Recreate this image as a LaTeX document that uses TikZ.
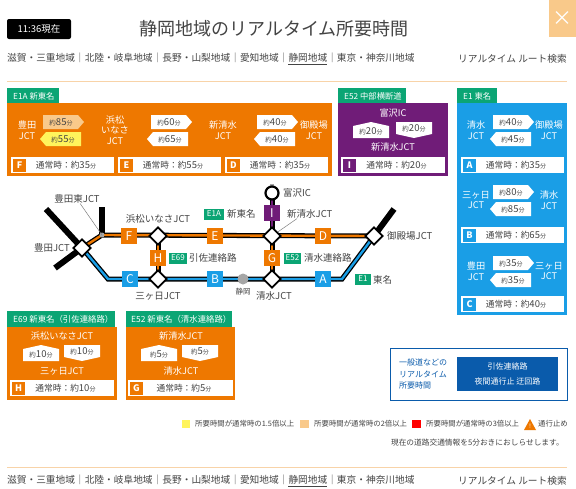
\documentclass[tikz,border=0pt]{standalone}
\usepackage{fontspec}
\setmainfont{Noto Sans CJK JP}
\usetikzlibrary{shapes.geometric,calc}
\definecolor{org}{HTML}{EE7800}
\definecolor{pur}{HTML}{701C78}
\definecolor{blu}{HTML}{1A9EE6}
\definecolor{grn}{HTML}{0BA574}
\definecolor{dbl}{HTML}{0A5BAB}
\definecolor{txt}{HTML}{444444}
\definecolor{lor}{HTML}{F9C98A}
\definecolor{lyl}{HTML}{FFF45C}
\definecolor{rul}{HTML}{F8D3A8}
\newcommand\fsz[1]{\fontsize{#1}{10.8}\selectfont}
\newcommand\tm[1]{{\fsz{6.5}約}{\fsz{9.5}#1}{\fsz{6}分}}
\newcommand\nm[1]{{\fsz{8.7}通常時：約}{\fsz{9.5}#1}{\fsz{6}分}}
\tikzset{
 panel/.style={fill=#1,draw=none},
 tabt/.style={text=white,font=\fsz{8.3},anchor=west,inner sep=0pt},
 tabw/.style={text=white,font=\fsz{8.4},anchor=west,inner sep=0pt},
 jct/.style={text=white,font=\fsz{9.2},align=center,inner sep=0pt},
 tagt/.style={text=txt,inner sep=0pt},
 rowt/.style={text=txt,inner sep=0pt},
 letb/.style={fill=#1,text=white,font=\fsz{9}\bfseries,minimum size=13pt,inner sep=0pt},
 mapb/.style={fill=#1,text=white,font=\fsz{12},minimum size=16pt,inner sep=0pt},
 jn/.style={diamond,draw=black,fill=white,line width=1.8pt,minimum width=18pt,minimum height=18pt,inner sep=0pt},
 lab/.style={text=txt,font=\fsz{9.5},inner sep=0pt},
 chip/.style={fill=grn,text=white,font=\fsz{8},inner sep=0pt,minimum height=11pt},
 road/.style={line width=5pt,black,line join=miter},
 branch/.style={line width=6pt,black,line join=miter},
 core/.style={line width=2.4pt,#1,line join=miter},
 small/.style={text=txt,font=\fsz{7.4},inner sep=0pt,anchor=west},
 nav/.style={text=txt,font=\fsz{9.7},inner sep=0pt}
}
\newcommand\tagR[5][white]{\fill[#1] (#2,#3) -- (#2+35,#3) -- (#2+41,#3+7) -- (#2+35,#3+14) -- (#2,#3+14) -- cycle; \node[tagt] (#4) at (#2+18,#3+7) {\tm{#5}};}
\newcommand\tagL[5][white]{\fill[#1] (#2+6,#3) -- (#2+41,#3) -- (#2+41,#3+14) -- (#2+6,#3+14) -- (#2,#3+7) -- cycle; \node[tagt] (#4) at (#2+23,#3+7) {\tm{#5}};}
\newcommand\tagU[4]{\fill[white] (#1,#2+4) -- (#1+18,#2) -- (#1+36,#2+4) -- (#1+36,#2+16) -- (#1,#2+16) -- cycle; \node[tagt] (#3) at (#1+18,#2+9.5) {\tm{#4}};}
\newcommand\tagD[4]{\fill[white] (#1,#2) -- (#1+36,#2) -- (#1+36,#2+12) -- (#1+18,#2+16) -- (#1,#2+12) -- cycle; \node[tagt] (#3) at (#1+18,#2+6.5) {\tm{#4}};}
\newcommand\rowb[7]{\draw[fill=white,draw=none] (#1,#2) rectangle (#3,#4);
 \node[letb=#6] (L#5) at (#1+8.5,{(#2+#4)/2}) {#5};
 \node[rowt] (T#5) at ({(#1+#3)/2+3.5},{(#2+#4)/2}) {\nm{#7}};}
\begin{document}
\begin{tikzpicture}[x=1pt,y=-1pt]
\path[use as bounding box,fill=white] (0,0) rectangle (576,488);
% header
\node[fill=black,text=white,rounded corners=2pt,minimum width=64pt,minimum height=20pt,font=\fsz{9.5},inner sep=0pt] (now) at (39,29) {11:36現在};
\node[text=txt,font=\fsz{18},inner sep=0pt] (title) at (274,29) {静岡地域のリアルタイム所要時間};
\node[fill=lor,minimum width=27pt,minimum height=37pt,inner sep=0pt,text=white,font=\fsz{20}] (close) at (562.5,18.5) {×};
\newcommand\navline{滋賀・三重地域｜北陸・岐阜地域｜長野・山梨地域｜愛知地域｜\underline{静岡地域}｜東京・神奈川地域}
\node[nav,anchor=west] (nav1) at (7,59) {\navline};
\node[nav,anchor=east] (rt1) at (567,59) {リアルタイム ルート検索};
\draw[rul,line width=1pt] (7,81) -- (567,81);
% E1A panel
\fill[grn] (7,88) rectangle (59,103);
\node[tabt] (tab1) at (13,96) {E1A 新東名};
\fill[org] (7,103) rectangle (332,176);
\node[jct] (p1a) at (27,130) {豊田\\JCT};
\tagR[lor]{43}{115}{t1}{85}
\tagL[lyl]{40}{132}{t2}{55}
\node[jct] (p1b) at (115,130) {浜松\\いなさ\\JCT};
\tagR{151}{115}{t3}{60}
\tagL{147}{132}{t4}{65}
\node[jct] (p1c) at (223,130) {新清水\\JCT};
\tagR{257}{115}{t5}{40}
\tagL{254}{132}{t6}{40}
\node[jct] (p1d) at (314,130) {御殿場\\JCT};
\rowb{11}{157}{114}{173}{F}{org}{35}
\rowb{118}{157}{221}{173}{E}{org}{55}
\rowb{225}{157}{328}{173}{D}{org}{35}
% E52 panel
\fill[grn] (338,88) rectangle (406,103);
\node[tabt] (tab2) at (344,96) {E52 中部横断道};
\fill[pur] (338,103) rectangle (448,176);
\node[jct] (p2a) at (393,113) {富沢IC};
\tagU{353}{122}{t7}{20}
\tagD{396}{122}{t8}{20}
\node[jct] (p2b) at (393,147) {新清水JCT};
\rowb{341}{157}{445}{173}{I}{pur}{20}
% E1 panel
\fill[grn] (457,88) rectangle (497,103);
\node[tabt] (tab3) at (463,96) {E1 東名};
\fill[blu] (457,103) rectangle (567,315);
\node[jct] (p3a) at (476,130) {清水\\JCT};
\tagR{493}{115}{t9}{40}
\tagL{490}{132}{t10}{45}
\node[jct] (p3b) at (549,130) {御殿場\\JCT};
\rowb{461}{157}{564}{173}{A}{blu}{35}
\node[jct] (p3c) at (476,200) {三ヶ日\\JCT};
\tagR{493}{185}{t11}{80}
\tagL{490}{202}{t12}{85}
\node[jct] (p3d) at (549,200) {清水\\JCT};
\rowb{461}{227}{564}{243}{B}{blu}{65}
\node[jct] (p3e) at (476,271) {豊田\\JCT};
\tagR{493}{256}{t13}{35}
\tagL{490}{273}{t14}{35}
\node[jct] (p3f) at (549,271) {三ヶ日\\JCT};
\rowb{461}{296}{564}{312}{C}{blu}{40}
% E69 panel
\fill[grn] (7,311) rectangle (115,327);
\node[tabw] (tab4) at (13,319) {E69 新東名（引佐連絡路）};
\fill[org] (7,327) rectangle (117,400);
\node[jct] (p4a) at (62,336) {浜松いなさJCT};
\tagU{23}{345}{t15}{10}
\tagD{64}{345}{t16}{10}
\node[jct] (p4b) at (62,371) {三ヶ日JCT};
\rowb{10}{380}{114}{396}{H}{org}{10}
% E52 lower panel
\fill[grn] (126,311) rectangle (232,327);
\node[tabw] (tab5) at (131,319) {E52 新東名（清水連絡路）};
\fill[org] (126,327) rectangle (235,400);
\node[jct] (p5a) at (181,336) {新清水JCT};
\tagU{141}{345}{t17}{5}
\tagD{182}{345}{t18}{5}
\node[jct] (p5b) at (181,371) {清水JCT};
\rowb{128}{380}{233}{396}{G}{org}{5}
% blue box
\draw[dbl,line width=1pt,fill=white] (390,348) rectangle (567,400);
\node[text=dbl,font=\fontsize{8}{11.5}\selectfont,align=left,inner sep=0pt,anchor=west] (gen) at (399,374) {一般道などの\\リアルタイム\\所要時間};
\node[fill=dbl,text=white,font=\fontsize{8}{15}\selectfont,align=center,minimum width=101pt,minimum height=34pt,inner sep=0pt] (gen2) at (507.5,374) {引佐連絡路\\夜間通行止 迂回路};
% road network
\coordinate (toyota) at (82,248);
\coordinate (tw1) at (46,209);
\coordinate (tw2) at (55,268);
\coordinate (hg1) at (102,207);
\coordinate (hg) at (102,235);
\coordinate (cn1) at (108,279);
\coordinate (cn2) at (342,279);
\coordinate (gt) at (394,209);
\coordinate (hm) at (158,236);
\coordinate (mk) at (158,279);
\coordinate (ss) at (272,236);
\coordinate (sm) at (272,279);
\coordinate (gb) at (374,236);
\coordinate (fj) at (272,193);
\draw[branch] (tw1) -- (toyota) -- (tw2);
\draw[branch] (hg1) -- (hg);
\draw[branch] (gb) -- (gt);
\draw[road] (toyota) -- (hg) -- (gb);
\draw[road] (toyota) -- (cn1) -- (cn2) -- (gb);
\draw[road] (hm) -- (mk);
\draw[road] (fj) -- (sm);
\draw[core=org] (toyota) -- (hg) -- (gb);
\draw[core=blu] (toyota) -- (cn1) -- (cn2) -- (gb);
\draw[core=org] (hm) -- (mk);
\draw[core=org] (ss) -- (sm);
\draw[core=pur] (fj) -- (ss);
\fill[gray!70] (hg) circle (2.5pt);
\node[jn] (jtoyota) at (toyota) {};
\node[jn] (jhm) at (hm) {};
\node[jn] (jmk) at (mk) {};
\node[jn] (jss) at (ss) {};
\node[jn] (jsm) at (sm) {};
\node[jn] (jgb) at (gb) {};
\fill[gray!70] (270,184) rectangle (274,187);
\node[circle,draw=black,fill=white,line width=2.2pt,minimum size=13pt,inner sep=0pt] (fuji) at (fj) {};
\node[fill=gray!70,circle,minimum size=11pt,inner sep=0pt] (sz) at (243,279) {};
\node[mapb=org] (mF) at (129,236) {F};
\node[mapb=org] (mE) at (215,236) {E};
\node[mapb=org] (mD) at (323,236) {D};
\node[mapb=org] (mH) at (158,258) {H};
\node[mapb=org] (mG) at (272,258) {G};
\node[mapb=pur] (mI) at (272,213) {I};
\node[mapb=blu] (mC) at (130,279) {C};
\node[mapb=blu] (mB) at (215,279) {B};
\node[mapb=blu] (mA) at (323,279) {A};
% labels
\node[lab] (l1) at (77,199) {豊田東JCT};
\draw[gray,line width=.5pt] (l1) -- (hg);
\node[lab,anchor=east] (l2) at (70,248) {豊田JCT};
\node[lab] (l3) at (158,219) {浜松いなさJCT};
\node[chip,minimum width=20pt] (c1) at (214,214) {E1A};
\node[lab,anchor=west] (l4) at (227,214) {新東名};
\node[lab,anchor=west] (l5) at (287,214) {新清水JCT};
\coordinate (l5p) at ($(l5.south west)+(10,0)$);
\draw[gray,line width=.5pt] (l5p) -- (jss);
\node[lab,anchor=west] (l6) at (283,193) {富沢IC};
\node[lab,anchor=west] (l7) at (387,236) {御殿場JCT};
\node[chip,minimum width=18pt] (c2) at (178,258) {E69};
\node[lab,anchor=west] (l8) at (189,258) {引佐連絡路};
\node[chip,minimum width=17pt] (c3) at (292.5,258) {E52};
\node[lab,anchor=west] (l9) at (304,258) {清水連絡路};
\node[chip,minimum width=16pt] (c4) at (363,279) {E1};
\node[lab,anchor=west] (l10) at (373,280) {東名};
\node[lab] (l11) at (158,296) {三ヶ日JCT};
\node[lab] (l12) at (274,296) {清水JCT};
\node[lab,font=\fsz{7.5}] (l13) at (243,292) {静岡};
% legend
\fill[lyl] (182,420) rectangle (190,428);
\node[small] (a1) at (195,424) {所要時間が通常時の1.5倍以上};
\fill[lor] (300,420) rectangle (309,428);
\node[small] (a2) at (314,424) {所要時間が通常時の2倍以上};
\fill[red] (412,420) rectangle (421,428);
\node[small] (a3) at (426,424) {所要時間が通常時の3倍以上};
\fill[org] (530,419) -- (536,430) -- (524,430) -- cycle;
\node[text=white,font=\fsz{6},inner sep=0pt] (warn) at (530,426) {!};
\node[small] (a4) at (538,424) {通行止め};
\node[small,anchor=east,font=\fsz{7.7}] (a5) at (564,443) {現在の道路交通情報を5分おきにおしらせします。};
% footer
\draw[rul,line width=1pt] (7,467) -- (567,467);
\node[nav,anchor=west] (nav2) at (7,481) {\navline};
\node[nav,anchor=east] (rt2) at (567,481) {リアルタイム ルート検索};
\end{tikzpicture}
\end{document}
